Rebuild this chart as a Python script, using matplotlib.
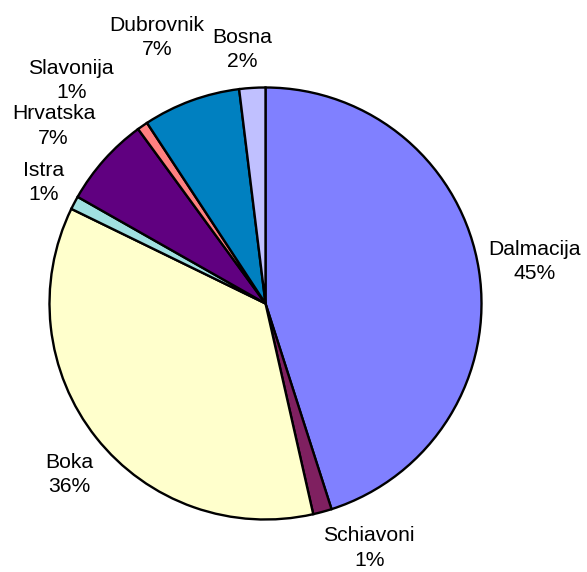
import numpy as np
import matplotlib.pyplot as plt

plt.rcParams['font.family'] = ['Liberation Sans', 'DejaVu Sans']

regions = ['Dalmacija', 'Schiavoni', 'Boka', 'Istra', 'Hrvatska', 'Slavonija', 'Dubrovnik', 'Bosna']
shares = [45.1, 1.4, 35.8, 1.0, 6.75, 0.8, 7.3, 1.95]
colors = ['#8080FF', '#7F2060', '#FFFFCC', '#A0E0E0', '#600080', '#FF8080', '#0080C0', '#C0C0FF']

# label placement: distance from centre (in radii) and angle shift from wedge middle
label_dist = [1.26, 1.23, 1.205, 1.17, 1.28, 1.37, 1.33, 1.18]
label_shift = [0, 7.7, 2.6, -0.9, 1.8, 6.3, 2.0, 1.8]

W, H = 587, 572
cx, cy, r = 265.5, 303.5, 216
fig = plt.figure(figsize=(W / 100, H / 100), dpi=100)
ax = fig.add_axes([(cx - r) / W, (H - cy - r) / H, 2 * r / W, 2 * r / H])

wedges, _ = ax.pie(shares, colors=colors, startangle=90, counterclock=False,
                   wedgeprops=dict(edgecolor='black', linewidth=1.7))
ax.set_xlim(-1, 1)
ax.set_ylim(-1, 1)
ax.set_aspect('equal')

total = sum(shares)
for w, name, val, d, s in zip(wedges, regions, shares, label_dist, label_shift):
    mid = np.deg2rad((w.theta1 + w.theta2) / 2 + s)
    ax.text(d * np.cos(mid), d * np.sin(mid), f"{name}\n{val / total * 100:.0f}%",
            ha='center', va='center', fontsize=15.2, linespacing=1.35)

plt.savefig('out.png', dpi=100)
